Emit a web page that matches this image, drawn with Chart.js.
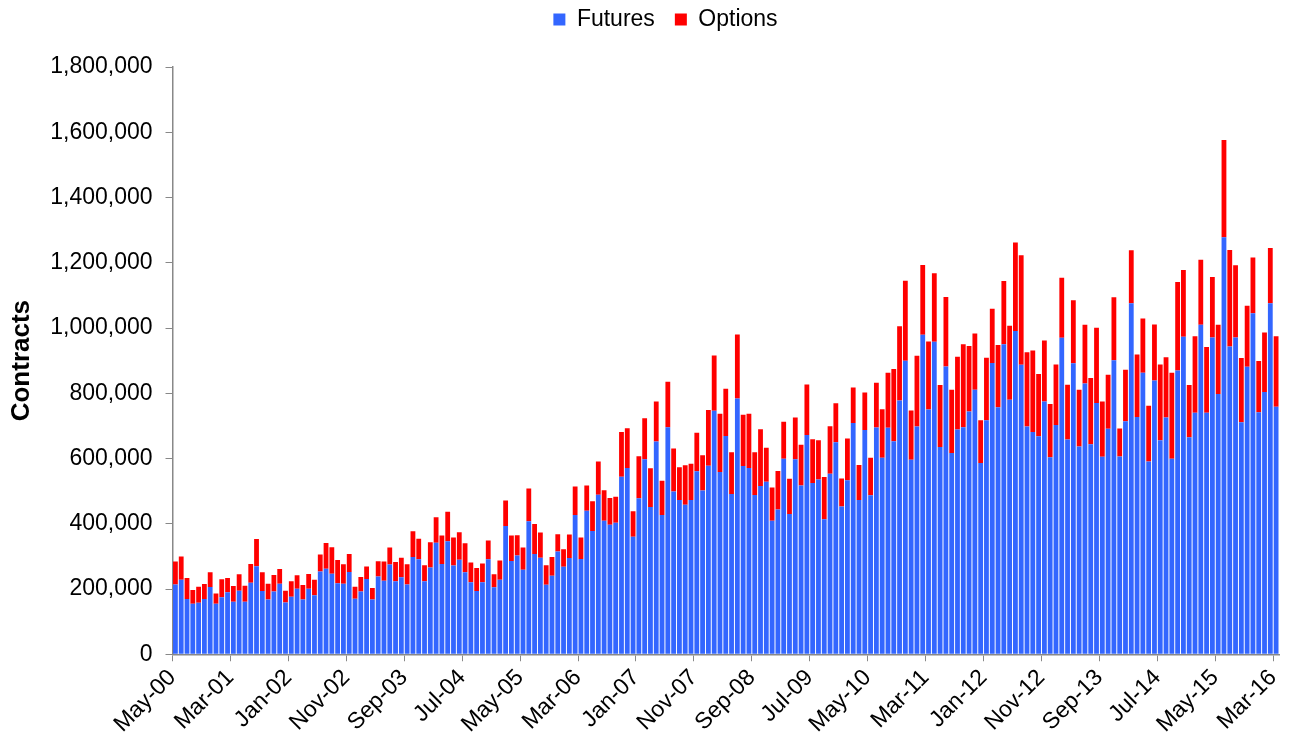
<!DOCTYPE html>
<html lang="en">
<head>
  <meta charset="UTF-8" />
  <title>Futures and Options Contracts</title>
  <script src="https://cdn.jsdelivr.net/npm/chart.js"></script>
  <style>
    body { margin: 0; background: #fff; }
    .wrap { width: 1293px; height: 744px; }
  </style>
</head>
<body>
  <div class="wrap"><canvas id="chart"></canvas></div>

  <script>
    // Monthly volumes, May-00 .. Mar-16 (thousands of contracts)
    const startYear = 2000, startMonth = 4; // May
    const monthNames = ['Jan','Feb','Mar','Apr','May','Jun','Jul','Aug','Sep','Oct','Nov','Dec'];

    const futuresK = [
      214,228,169,155,158,169,206,155,175,190,
      161,195,161,219,270,194,168,192,216,159,
      176,201,168,201,181,254,262,247,218,216,
      252,170,192,231,168,238,225,275,224,236,
      214,298,291,224,266,342,277,346,272,290,
      251,221,194,221,291,205,228,393,286,303,
      259,408,307,296,213,241,315,268,295,427,
      292,440,378,489,409,397,403,544,571,360,
      478,598,451,652,427,696,499,473,458,473,
      561,502,578,746,559,669,491,784,577,571,
      488,516,529,409,444,599,430,598,517,672,
      525,536,414,553,650,453,533,709,473,687,
      487,695,602,694,653,778,900,596,698,979,
      750,958,635,882,617,689,696,744,811,586,
      717,893,757,950,780,991,887,698,681,668,
      775,604,703,970,658,892,637,830,644,770,
      605,691,901,606,714,1076,727,863,591,839,
      656,726,599,870,973,665,740,1010,740,971,
      798,1278,943,971,711,881,1045,742,804,1076,759
    ];

    const optionsK = [
      70,72,65,42,49,46,45,31,55,44,
      48,50,49,58,83,57,48,51,45,36,
      48,41,44,45,47,52,79,81,71,60,
      55,37,45,38,35,47,59,52,59,60,
      62,79,63,49,77,78,87,91,86,84,
      89,60,70,57,58,40,59,78,78,62,
      68,100,92,77,60,57,53,54,72,87,
      66,77,91,102,94,82,80,137,122,78,
      129,125,119,123,105,139,132,100,121,111,
      118,108,171,170,178,145,128,196,157,166,
      131,174,104,102,118,114,108,128,125,155,
      134,120,129,146,119,86,128,109,107,115,
      115,137,149,169,221,227,245,151,217,214,
      209,210,190,213,194,223,254,201,172,131,
      192,166,191,194,227,271,336,228,250,191,
      187,163,185,184,168,193,174,180,203,231,
      170,166,193,86,158,162,192,166,171,172,
      232,184,264,271,205,160,235,199,202,185,
      212,298,296,221,197,187,171,157,182,169,216
    ];

    const labelEvery = 10;

    // month labels like "May-00"
    const labels = futuresK.map((_, i) => {
      const m = startMonth + i;
      const yy = String((startYear + Math.floor(m / 12)) % 100).padStart(2, '0');
      return monthNames[m % 12] + '-' + yy;
    });

    Chart.defaults.font.family = "'Liberation Sans', Arial, sans-serif";
    Chart.defaults.color = '#000';

    // legend: extra room below it, nudged right and up like the original
    const legendPlace = {
      id: 'legendPlace',
      beforeInit(chart) {
        const fit = chart.legend.fit;
        chart.legend.fit = function () {
          fit.bind(chart.legend)();
          this.height += 14;
        };
      },
      afterLayout(chart) {
        const lg = chart.legend;
        lg.left += 23; lg.right += 23;
        lg.top -= 12; lg.bottom -= 12;
      }
    };

    new Chart(document.getElementById('chart'), {
      type: 'bar',
      data: {
        labels: labels,
        datasets: [
          { label: 'Futures', data: futuresK.map(v => v * 1000), backgroundColor: '#3366FF' },
          { label: 'Options', data: optionsK.map(v => v * 1000), backgroundColor: '#FF0000' }
        ]
      },
      options: {
        responsive: true,
        maintainAspectRatio: false,
        animation: false,
        barPercentage: 0.83,
        categoryPercentage: 1,
        layout: { padding: { left: 6, right: 14, top: 0, bottom: 3 } },
        plugins: {
          legend: {
            position: 'top',
            labels: { boxWidth: 12, boxHeight: 12, padding: 20, font: { size: 23 } }
          },
          tooltip: { enabled: false }
        },
        scales: {
          x: {
            stacked: true,
            border: { color: '#888', width: 1.5 },
            grid: {
              drawOnChartArea: false,
              tickLength: 7,
              color: ctx => ctx.index % labelEvery === 0 ? '#888' : 'rgba(0,0,0,0)'
            },
            ticks: {
              autoSkip: false,
              maxRotation: 45,
              minRotation: 45,
              labelOffset: -3,
              font: { size: 23 },
              callback: (v, i) => i % labelEvery === 0 ? labels[i] : ''
            },
            afterFit: scale => { scale.paddingRight = 0; }
          },
          y: {
            stacked: true,
            min: 0,
            max: 1800000,
            border: { color: '#888', width: 1.5 },
            grid: { drawOnChartArea: false, tickLength: 7, color: '#888' },
            ticks: {
              stepSize: 200000,
              padding: 13,
              font: { size: 23 },
              callback: v => v.toLocaleString('en-US')
            },
            title: {
              display: true,
              text: 'Contracts',
              padding: { top: 0, bottom: 0 },
              font: { size: 26, weight: 'bold' }
            }
          }
        }
      },
      plugins: [legendPlace]
    });
  </script>
</body>
</html>
